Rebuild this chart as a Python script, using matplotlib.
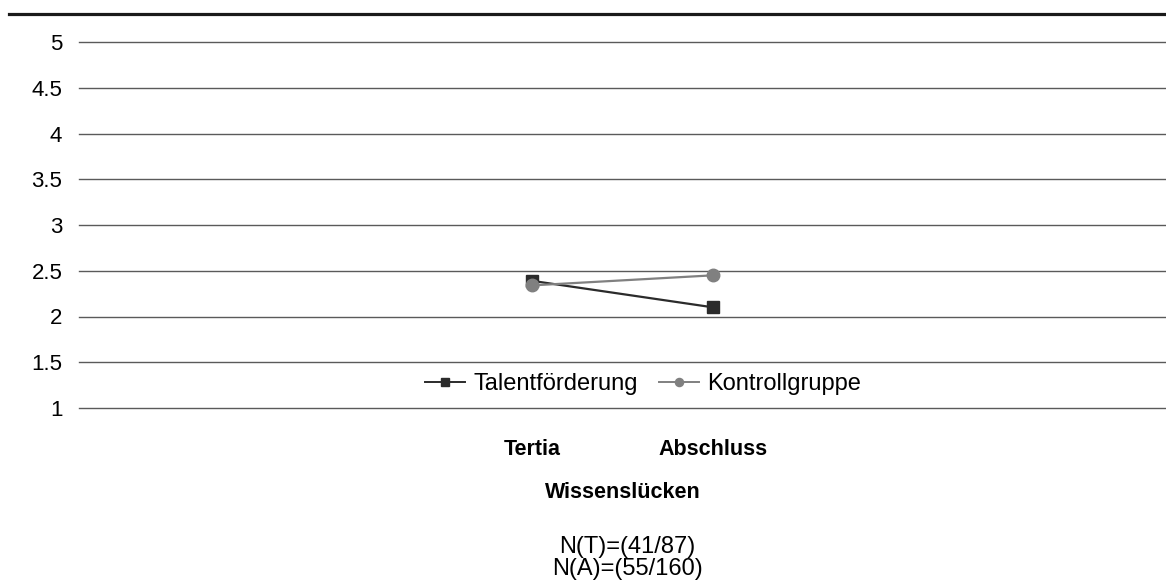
import matplotlib
matplotlib.use("Agg")
import matplotlib.pyplot as plt
from matplotlib.lines import Line2D

categories = ["", "", "Tertia", "Abschluss", "", ""]
series_names = ["Talentförderung", "Kontrollgruppe"]
talent = [None, None, 2.39, 2.10, None, None]
kontroll = [None, None, 2.34, 2.45, None, None]
yticks = [1, 1.5, 2, 2.5, 3, 3.5, 4, 4.5, 5]
ytick_labels = ["1", "1.5", "2", "2.5", "3", "3.5", "4", "4.5", "5"]
xlabel = "Wissenslücken"
note = "N(T)=(41/87)\nN(A)=(55/160)"

plt.rcParams['font.family'] = ['Liberation Sans', 'DejaVu Sans']

fig = plt.figure(figsize=(11.66, 5.83), dpi=100)
ax = fig.add_axes([79/1166, 1-408/583, 1-79/1166, (408-42)/583])

x = list(range(len(categories)))
def pts(vals):
    xs = [i for i, v in zip(x, vals) if v is not None]
    ys = [v for v in vals if v is not None]
    return xs, ys

xt, yt = pts(talent)
xk, yk = pts(kontroll)
ax.plot(xt, yt, color='#2b2b2b', lw=1.6, marker='s', ms=8.5, label=series_names[0], zorder=3)
ax.plot(xk, yk, color='#808080', lw=1.6, marker='o', ms=9, label=series_names[1], zorder=4)

ax.set_xlim(-0.5, len(categories) - 0.5)
ax.set_ylim(1, 5)
ax.set_yticks(yticks)
ax.set_yticklabels(ytick_labels, fontsize=16)
ax.set_xticks(x)
ax.set_xticklabels(categories, fontsize=15.5, fontweight='bold')
ax.tick_params(axis='both', length=0)
ax.tick_params(axis='y', pad=12)
ax.tick_params(axis='x', pad=22)
for s in ax.spines.values():
    s.set_visible(False)
ax.grid(axis='y', color='#5a5a5a', lw=1.0)
ax.set_axisbelow(True)
for gl in ax.get_ygridlines():
    gl.set_clip_on(False)

ax.set_xlabel(xlabel, fontsize=15.5, fontweight='bold', labelpad=16)

fig.text(627/1166, 1-558/583, note, ha='center', va='center', fontsize=17, linespacing=1.0)

# top rule
fig.add_artist(Line2D([9/1166, 1], [1-14/583, 1-14/583], color='#1a1a1a', lw=2.3, transform=fig.transFigure))

leg = ax.legend(loc='center', bbox_to_anchor=(643/1166, 1-384/583), bbox_transform=fig.transFigure,
                ncol=2, frameon=False, fontsize=17, markerscale=0.65, handlelength=1.7,
                handletextpad=0.35, columnspacing=0.9, borderaxespad=0)
for h in leg.legend_handles:
    h.set_linewidth(1.4)

fig.savefig("out.png", dpi=100)
